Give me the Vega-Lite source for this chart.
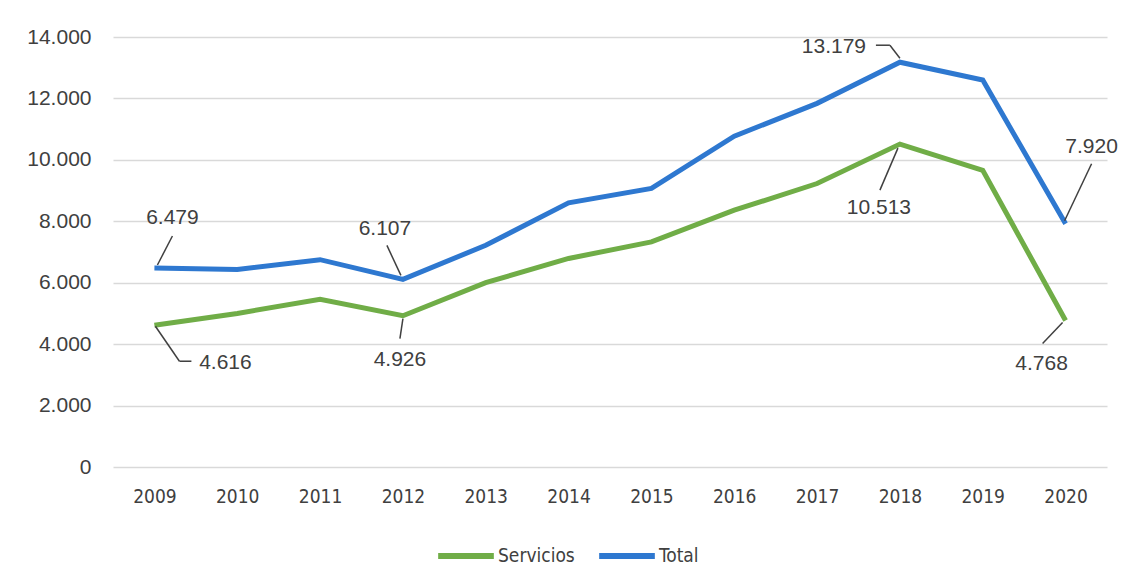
{
  "$schema": "https://vega.github.io/schema/vega-lite/v6.json",
  "width": 994,
  "height": 430,
  "autosize": {"type": "none"},
  "padding": {"left": 113, "top": 37, "right": 23, "bottom": 118},
  "background": "white",
  "config": {
    "locale": {"number": {"decimal": ",", "thousands": ".", "grouping": [3], "currency": ["", " €"]}},
    "view": {"stroke": null},
    "font": "Liberation Sans"
  },
  "data": {
    "values": [
      {"year": 2009, "series": "Servicios", "value": 4616},
      {"year": 2010, "series": "Servicios", "value": 5000},
      {"year": 2011, "series": "Servicios", "value": 5460},
      {"year": 2012, "series": "Servicios", "value": 4926},
      {"year": 2013, "series": "Servicios", "value": 6000},
      {"year": 2014, "series": "Servicios", "value": 6790},
      {"year": 2015, "series": "Servicios", "value": 7330},
      {"year": 2016, "series": "Servicios", "value": 8360},
      {"year": 2017, "series": "Servicios", "value": 9230},
      {"year": 2018, "series": "Servicios", "value": 10513},
      {"year": 2019, "series": "Servicios", "value": 9660},
      {"year": 2020, "series": "Servicios", "value": 4768},
      {"year": 2009, "series": "Total", "value": 6479},
      {"year": 2010, "series": "Total", "value": 6430},
      {"year": 2011, "series": "Total", "value": 6750},
      {"year": 2012, "series": "Total", "value": 6107},
      {"year": 2013, "series": "Total", "value": 7220},
      {"year": 2014, "series": "Total", "value": 8600},
      {"year": 2015, "series": "Total", "value": 9070},
      {"year": 2016, "series": "Total", "value": 10770},
      {"year": 2017, "series": "Total", "value": 11840},
      {"year": 2018, "series": "Total", "value": 13179},
      {"year": 2019, "series": "Total", "value": 12600},
      {"year": 2020, "series": "Total", "value": 7920}
    ]
  },
  "encoding": {
    "x": {
      "field": "year", "type": "ordinal",
      "scale": {"type": "point", "padding": 0.5},
      "axis": {"title": null, "labelAngle": 0, "domain": false, "ticks": false, "labelPadding": 20,
               "labelFont": "DejaVu Sans Condensed, sans-serif", "labelFontSize": 19, "labelColor": "#404040"}
    },
    "y": {
      "field": "value", "type": "quantitative",
      "scale": {"domain": [0, 14000]},
      "axis": {"title": null, "values": [0, 2000, 4000, 6000, 8000, 10000, 12000, 14000], "format": ",d",
               "domain": false, "ticks": false, "labelPadding": 22, "labelFontSize": 21, "labelColor": "#404040",
               "gridColor": "#d9d9d9", "gridWidth": 1.5}
    }
  },
  "layer": [
    {
      "mark": {"type": "line", "strokeWidth": 5},
      "encoding": {
        "color": {
          "field": "series", "type": "nominal",
          "scale": {"domain": ["Servicios", "Total"], "range": ["#70AD47", "#2E78D0"]},
          "legend": {"title": null, "orient": "none", "legendX": 322, "legendY": 488, "direction": "horizontal", "symbolType": "stroke",
                     "symbolStrokeWidth": 6, "symbolSize": 3100, "labelFontSize": 19, "labelColor": "#404040",
                     "labelFont": "DejaVu Sans Condensed, sans-serif", "columnPadding": 12, "labelOffset": 1}
        }
      }
    },
    {"transform": [{"filter": "datum.year == 2009 && datum.series == 'Total'"}],
     "mark": {"type": "text", "dx": 18, "dy": -50, "fontSize": 21, "color": "#404040"},
     "encoding": {"text": {"field": "value", "type": "quantitative", "format": ",d"}}},
    {"transform": [{"filter": "datum.year == 2009 && datum.series == 'Total'"}],
     "mark": {"type": "rule", "color": "#404040", "strokeWidth": 1.5, "xOffset": 3, "yOffset": -3, "x2Offset": 18, "y2Offset": -32},
     "encoding": {"x2": {"field": "year"}, "y2": {"field": "value"}}},
    {"transform": [{"filter": "datum.year == 2009 && datum.series == 'Servicios'"}],
     "mark": {"type": "text", "dx": 71, "dy": 38, "fontSize": 21, "color": "#404040"},
     "encoding": {"text": {"field": "value", "type": "quantitative", "format": ",d"}}},
    {"transform": [{"filter": "datum.year == 2009 && datum.series == 'Servicios'"}],
     "mark": {"type": "rule", "color": "#404040", "strokeWidth": 1.5, "xOffset": 1, "yOffset": 1, "x2Offset": 25, "y2Offset": 36},
     "encoding": {"x2": {"field": "year"}, "y2": {"field": "value"}}},
    {"transform": [{"filter": "datum.year == 2009 && datum.series == 'Servicios'"}],
     "mark": {"type": "rule", "color": "#404040", "strokeWidth": 1.5, "xOffset": 25, "yOffset": 36, "x2Offset": 37, "y2Offset": 36},
     "encoding": {"x2": {"field": "year"}, "y2": {"field": "value"}}},
    {"transform": [{"filter": "datum.year == 2012 && datum.series == 'Total'"}],
     "mark": {"type": "text", "dx": -18, "dy": -50, "fontSize": 21, "color": "#404040"},
     "encoding": {"text": {"field": "value", "type": "quantitative", "format": ",d"}}},
    {"transform": [{"filter": "datum.year == 2012 && datum.series == 'Total'"}],
     "mark": {"type": "rule", "color": "#404040", "strokeWidth": 1.5, "xOffset": -16, "yOffset": -34, "x2Offset": -2, "y2Offset": -4},
     "encoding": {"x2": {"field": "year"}, "y2": {"field": "value"}}},
    {"transform": [{"filter": "datum.year == 2012 && datum.series == 'Servicios'"}],
     "mark": {"type": "text", "dx": -3, "dy": 44, "fontSize": 21, "color": "#404040"},
     "encoding": {"text": {"field": "value", "type": "quantitative", "format": ",d"}}},
    {"transform": [{"filter": "datum.year == 2012 && datum.series == 'Servicios'"}],
     "mark": {"type": "rule", "color": "#404040", "strokeWidth": 1.5, "xOffset": 0, "yOffset": 3, "x2Offset": -3, "y2Offset": 23},
     "encoding": {"x2": {"field": "year"}, "y2": {"field": "value"}}},
    {"transform": [{"filter": "datum.year == 2018 && datum.series == 'Total'"}],
     "mark": {"type": "text", "dx": -66, "dy": -15, "fontSize": 21, "color": "#404040"},
     "encoding": {"text": {"field": "value", "type": "quantitative", "format": ",d"}}},
    {"transform": [{"filter": "datum.year == 2018 && datum.series == 'Total'"}],
     "mark": {"type": "rule", "color": "#404040", "strokeWidth": 1.5, "xOffset": -24, "yOffset": -17, "x2Offset": -10, "y2Offset": -17},
     "encoding": {"x2": {"field": "year"}, "y2": {"field": "value"}}},
    {"transform": [{"filter": "datum.year == 2018 && datum.series == 'Total'"}],
     "mark": {"type": "rule", "color": "#404040", "strokeWidth": 1.5, "xOffset": -10, "yOffset": -17, "x2Offset": 0, "y2Offset": -4},
     "encoding": {"x2": {"field": "year"}, "y2": {"field": "value"}}},
    {"transform": [{"filter": "datum.year == 2018 && datum.series == 'Servicios'"}],
     "mark": {"type": "text", "dx": -21, "dy": 64, "fontSize": 21, "color": "#404040"},
     "encoding": {"text": {"field": "value", "type": "quantitative", "format": ",d"}}},
    {"transform": [{"filter": "datum.year == 2018 && datum.series == 'Servicios'"}],
     "mark": {"type": "rule", "color": "#404040", "strokeWidth": 1.5, "xOffset": -2, "yOffset": 4, "x2Offset": -20, "y2Offset": 46},
     "encoding": {"x2": {"field": "year"}, "y2": {"field": "value"}}},
    {"transform": [{"filter": "datum.year == 2020 && datum.series == 'Total'"}],
     "mark": {"type": "text", "dx": 26, "dy": -77, "fontSize": 21, "color": "#404040"},
     "encoding": {"text": {"field": "value", "type": "quantitative", "format": ",d"}}},
    {"transform": [{"filter": "datum.year == 2020 && datum.series == 'Total'"}],
     "mark": {"type": "rule", "color": "#404040", "strokeWidth": 1.5, "xOffset": 26, "yOffset": -60, "x2Offset": -1, "y2Offset": -3},
     "encoding": {"x2": {"field": "year"}, "y2": {"field": "value"}}},
    {"transform": [{"filter": "datum.year == 2020 && datum.series == 'Servicios'"}],
     "mark": {"type": "text", "dx": -24, "dy": 43, "fontSize": 21, "color": "#404040"},
     "encoding": {"text": {"field": "value", "type": "quantitative", "format": ",d"}}},
    {"transform": [{"filter": "datum.year == 2020 && datum.series == 'Servicios'"}],
     "mark": {"type": "rule", "color": "#404040", "strokeWidth": 1.5, "xOffset": -3, "yOffset": 2, "x2Offset": -23, "y2Offset": 23},
     "encoding": {"x2": {"field": "year"}, "y2": {"field": "value"}}}
  ]
}
